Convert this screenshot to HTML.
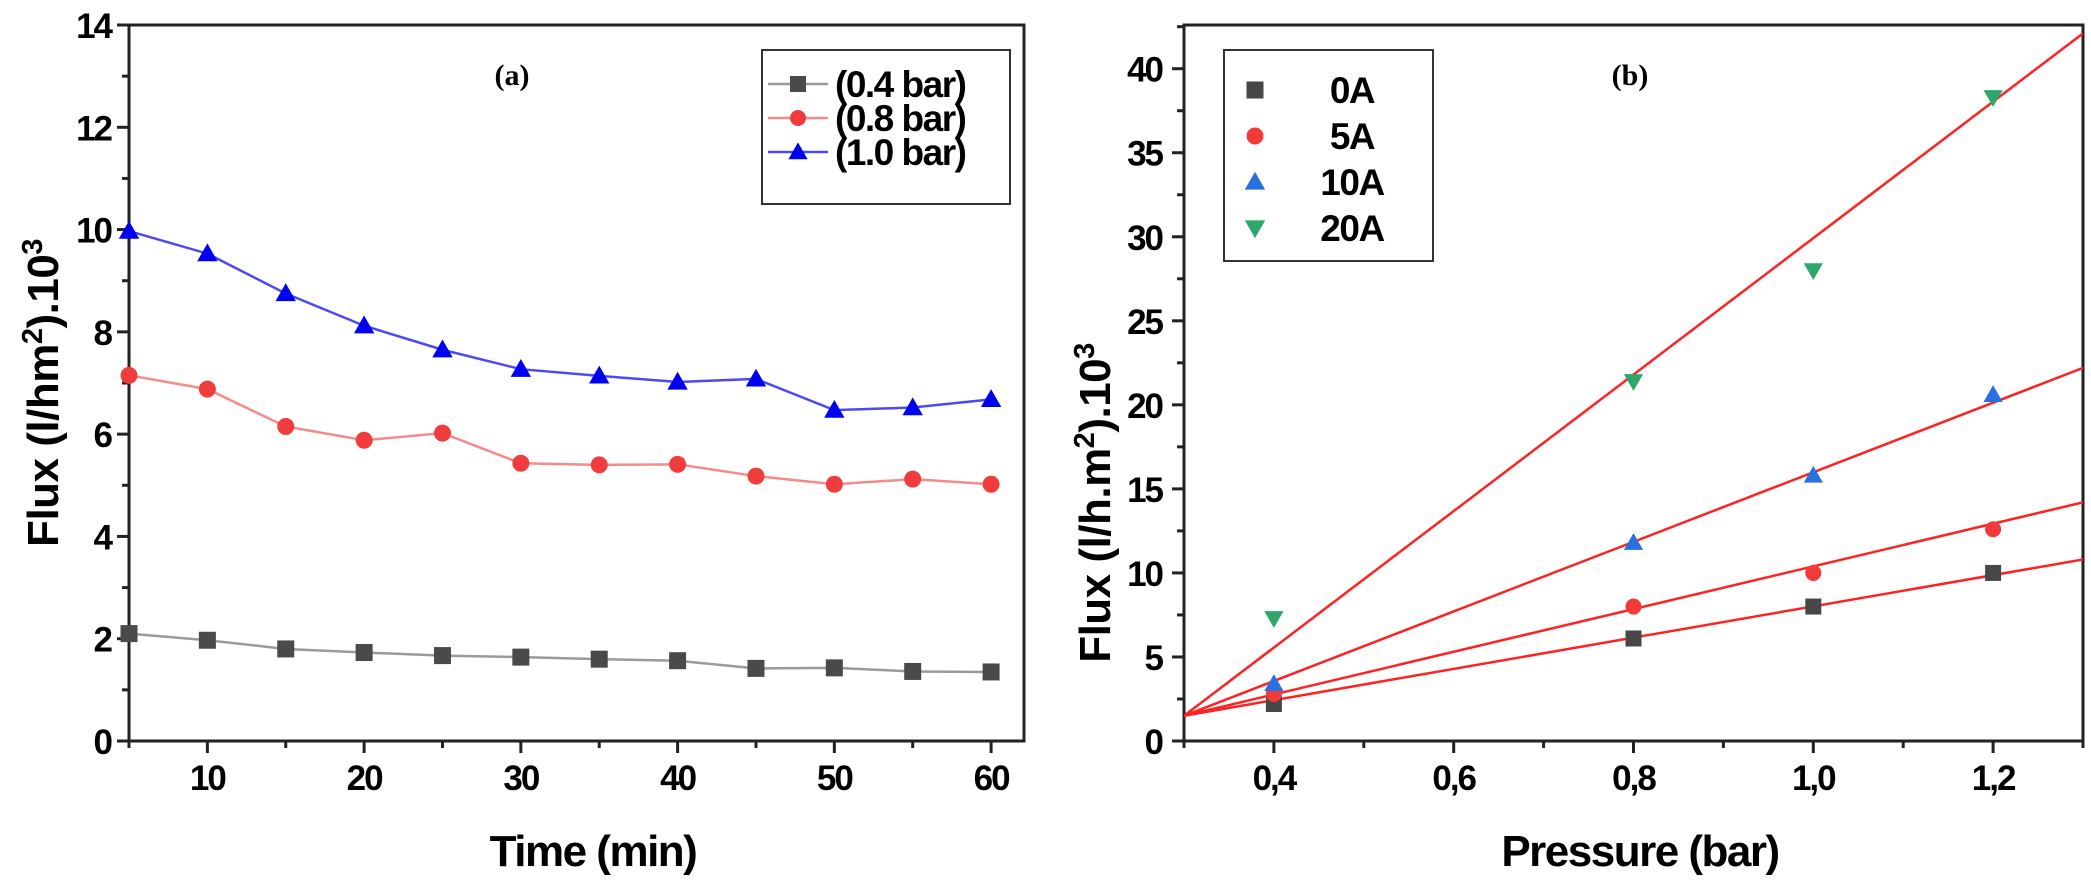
<!DOCTYPE html>
<html><head><meta charset="utf-8"><style>
html,body{margin:0;padding:0;background:#fff}
svg{display:block}
text{font-family:"Liberation Sans",Arial,sans-serif;font-weight:bold;fill:#000}
</style></head><body>
<svg id="chart" width="2091" height="885" viewBox="0 0 2091 885" xmlns="http://www.w3.org/2000/svg">
<rect width="2091" height="885" fill="#fff"/>
<g id="pa"></g>
<g id="pb"></g>
</svg>
<script>
// Panel (a) data
const timeCats = [5,10,15,20,25,30,35,40,45,50,55,60];
const flux04 = [2.1,1.97,1.8,1.73,1.67,1.64,1.6,1.57,1.42,1.43,1.36,1.35];
const flux08 = [7.15,6.88,6.15,5.88,6.02,5.43,5.4,5.41,5.18,5.02,5.12,5.02];
const flux10 = [9.97,9.53,8.75,8.12,7.65,7.27,7.14,7.02,7.08,6.47,6.52,6.68];
const aYTicks = [0,2,4,6,8,10,12,14];
const aXTicks = [10,20,30,40,50,60];
const aLegend = ["(0.4 bar)","(0.8 bar)","(1.0 bar)"];
// Panel (b) data
const pressCats = [0.4,0.8,1.0,1.2];
const flux0A = [2.2,6.1,8.0,10.0];
const flux5A = [2.8,8.0,10.0,12.6];
const flux10A = [3.4,11.8,15.8,20.6];
const flux20A = [7.3,21.4,28.0,38.3];
const fitSlope = [9.3,12.7,20.7,40.6];
const fitIntercept = [-1.29,-2.31,-4.71,-10.68];
const bYTicks = [0,5,10,15,20,25,30,35,40];
const bXTicks = ["0,4","0,6","0,8","1,0","1,2"];
const bXTickVals = [0.4,0.6,0.8,1.0,1.2];
const bLegend = ["0A","5A","10A","20A"];

const NS="http://www.w3.org/2000/svg";
function mk(parent,tag,attrs,txt){const e=document.createElementNS(NS,tag);for(const k in attrs)e.setAttribute(k,attrs[k]);if(txt!==undefined)e.textContent=txt;parent.appendChild(e);return e;}

function marker(g,type,x,y,fill,s){
  let e;
  if(type==='sq'){e=mk(g,'rect',{x:x-s/2,y:y-s/2,width:s,height:s,fill:fill});}
  else if(type==='ci'){e=mk(g,'circle',{cx:x,cy:y,r:s/2,fill:fill});}
  else if(type==='up'){e=mk(g,'polygon',{points:`${x},${y-s*0.6} ${x-s*0.6},${y+s*0.45} ${x+s*0.6},${y+s*0.45}`,fill:fill});}
  else {e=mk(g,'polygon',{points:`${x},${y+s*0.6} ${x-s*0.6},${y-s*0.45} ${x+s*0.6},${y-s*0.45}`,fill:fill});}
  return e;
}
const TICKFS=35, TICKLS=-2;

// ---------- Panel a ----------
(function(){
const g=document.getElementById('pa');
const L=129,R=1024,T=25,B=741,x0=5,x1=62.1,y0=0,y1=14;
const X=v=>L+(v-x0)/(x1-x0)*(R-L), Y=v=>B-(v-y0)/(y1-y0)*(B-T);
let e=mk(g,'rect',{x:L,y:T,width:R-L,height:B-T,fill:'none',stroke:'#222','stroke-width':3});


for(let v=0;v<=14;v+=1){mk(g,'line',{x1:L,x2:L-(v%2===0?12:7),y1:Y(v),y2:Y(v),stroke:'#222','stroke-width':3});}
aYTicks.forEach(v=>{const t=mk(g,'text',{x:111,y:Y(v)+13,'text-anchor':'end','font-size':TICKFS,'letter-spacing':TICKLS},String(v));

});
for(let v=5;v<=60;v+=5){mk(g,'line',{x1:X(v),x2:X(v),y1:B,y2:B+(v%10===0?12:7),stroke:'#222','stroke-width':3});}
aXTicks.forEach(v=>{const t=mk(g,'text',{x:X(v),y:790,'text-anchor':'middle','font-size':TICKFS,'letter-spacing':TICKLS},String(v));

});
let t=mk(g,'text',{x:593,y:866,'text-anchor':'middle','font-size':44,'letter-spacing':-1.5},'Time (min)');


t=mk(g,'text',{transform:'translate(58,393) rotate(-90)','text-anchor':'middle','font-size':44,'letter-spacing':-0.5});
t.innerHTML='Flux (l/hm<tspan dy="-16" font-size="29">2</tspan><tspan dy="16">).10</tspan><tspan dy="-16" font-size="29">3</tspan>';


t=mk(g,'text',{x:512,y:85,'text-anchor':'middle','font-size':30,style:'font-family:"Liberation Serif",serif'},'(a)');


const series=[[flux04,'#9a9a9a','#4a4a4a','sq'],[flux08,'#f58a8a','#f03c3c','ci'],[flux10,'#4a4af5','#0000f0','up']];
series.forEach((s,i)=>{
  const pl=mk(g,'polyline',{points:timeCats.map((c,j)=>X(c)+','+Y(s[0][j])).join(' '),fill:'none',stroke:s[1],'stroke-width':2.5});
  
  
  timeCats.forEach((c,j)=>{const m=marker(g,s[3],X(c),Y(s[0][j]),s[2],17);
    
    });
});
e=mk(g,'rect',{x:762,y:50,width:248,height:154,fill:'#fff',stroke:'#333','stroke-width':2});


const ly=[84,118,152];
series.forEach((s,i)=>{
  mk(g,'line',{x1:768,x2:828,y1:ly[i],y2:ly[i],stroke:s[1],'stroke-width':2.5});
  marker(g,s[3],798,ly[i],s[2],16);
  const tt=mk(g,'text',{x:835,y:ly[i]+13,'font-size':37,'letter-spacing':-1.5},aLegend[i]);
  
  
});
})();

// ---------- Panel b ----------
(function(){
const g=document.getElementById('pb');
const L=1184,R=2083,T=25,B=741,x0=0.3,x1=1.3,y0=0,y1=42.6;
const X=v=>L+(v-x0)/(x1-x0)*(R-L), Y=v=>B-(v-y0)/(y1-y0)*(B-T);
let e=mk(g,'rect',{x:L,y:T,width:R-L,height:B-T,fill:'none',stroke:'#222','stroke-width':3});


for(let v=0;v<=42.5;v+=2.5){mk(g,'line',{x1:L,x2:L-(v%5===0?12:7),y1:Y(v),y2:Y(v),stroke:'#222','stroke-width':3});}
bYTicks.forEach(v=>{const t=mk(g,'text',{x:1162,y:Y(v)+13,'text-anchor':'end','font-size':TICKFS,'letter-spacing':TICKLS},String(v));

});
for(let k=3;k<=13;k++){const v=k/10;mk(g,'line',{x1:X(v),x2:X(v),y1:B,y2:B+(k%2===0?12:7),stroke:'#222','stroke-width':3});}
bXTickVals.forEach((v,i)=>{const t=mk(g,'text',{x:X(v),y:790,'text-anchor':'middle','font-size':TICKFS,'letter-spacing':TICKLS},bXTicks[i]);

});
let t=mk(g,'text',{x:1640,y:866,'text-anchor':'middle','font-size':44,'letter-spacing':-1.5},'Pressure (bar)');


t=mk(g,'text',{transform:'translate(1110,503) rotate(-90)','text-anchor':'middle','font-size':44,'letter-spacing':-0.5});
t.innerHTML='Flux (l/h.m<tspan dy="-16" font-size="29">2</tspan><tspan dy="16">).10</tspan><tspan dy="-16" font-size="29">3</tspan>';


t=mk(g,'text',{x:1630,y:85,'text-anchor':'middle','font-size':30,style:'font-family:"Liberation Serif",serif'},'(b)');


const cp=mk(g,'clipPath',{id:'clipb'});mk(cp,'rect',{x:L,y:T,width:R-L,height:B-T});
fitSlope.forEach((s,i)=>{
  const l=mk(g,'line',{x1:X(x0),y1:Y(s*x0+fitIntercept[i]),x2:X(x1),y2:Y(s*x1+fitIntercept[i]),stroke:'#f22','stroke-width':2.5,'clip-path':'url(#clipb)'});
  
  
});
const series=[[flux0A,'#474747','sq'],[flux5A,'#f33a3a','ci'],[flux10A,'#2a70e0','up'],[flux20A,'#2ea86a','dn']];
series.forEach((s,i)=>{
  pressCats.forEach((c,j)=>{const m=marker(g,s[2],X(c),Y(s[0][j]),s[1],16);
    
    });
});
e=mk(g,'rect',{x:1224,y:50,width:209,height:211,fill:'#fff',stroke:'#333','stroke-width':2});


const ly=[90,136,182,228];
series.forEach((s,i)=>{
  marker(g,s[2],1255,ly[i],s[1],17);
  const tt=mk(g,'text',{x:1352,y:ly[i]+13,'text-anchor':'middle','font-size':37,'letter-spacing':-1.5},bLegend[i]);
  
  
});
})();
</script>
</body></html>
